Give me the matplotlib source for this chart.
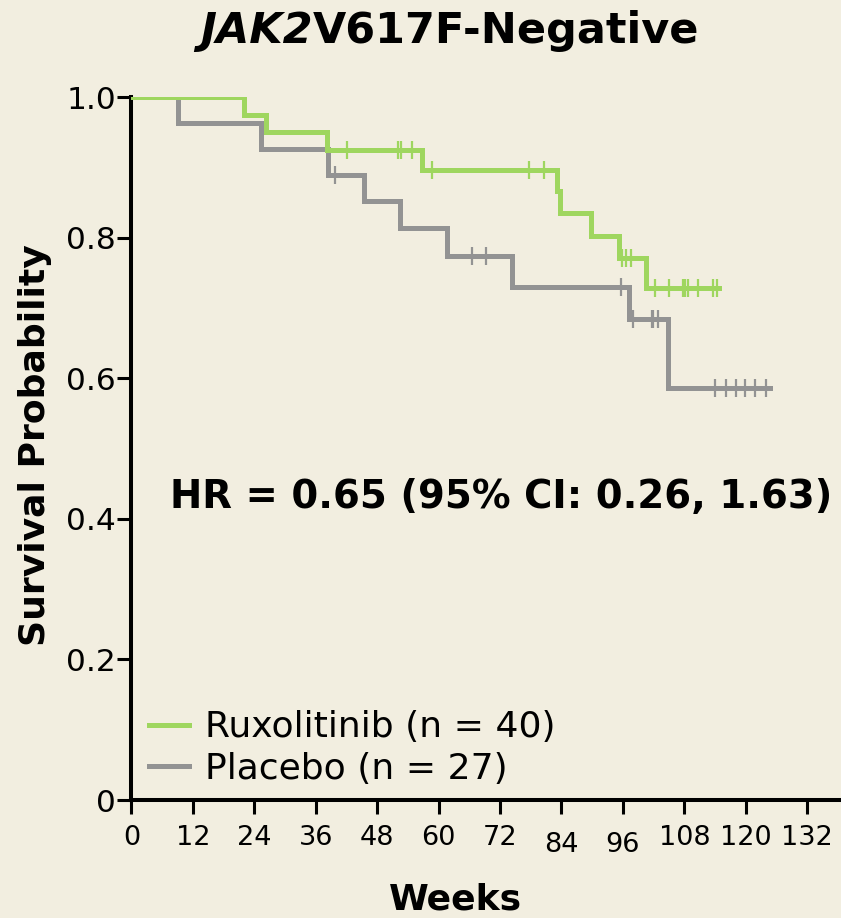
import numpy as np
import matplotlib
matplotlib.use("Agg")
import matplotlib.pyplot as plt
from matplotlib.transforms import ScaledTranslation

# Kaplan-Meier steps: event times (weeks) and survival after each event
rux_times = [22.0, 26.2, 38.3, 56.7, 83.2, 83.8, 89.7, 95.2, 100.5]
rux_surv = [0.975, 0.950, 0.925, 0.896, 0.866, 0.835, 0.802, 0.771, 0.728]
rux_censor = [42.1, 52.0, 52.6, 54.9, 58.8, 77.7, 80.6, 95.8, 96.7, 97.5,
              102.3, 105.1, 107.7, 108.1, 108.8, 110.7, 113.6, 114.3]
rux_end = 114.8

pbo_times = [9.2, 25.3, 38.5, 45.4, 52.5, 61.6, 74.3, 97.1, 104.9]
pbo_surv = [0.963, 0.926, 0.889, 0.852, 0.813, 0.774, 0.730, 0.684, 0.586]
pbo_censor = [39.8, 66.5, 69.2, 95.6, 97.9, 101.6, 101.9, 102.9,
              114.0, 116.1, 118.1, 119.8, 121.8, 123.9]
pbo_end = 124.7

week_ticks = np.arange(0, 133, 12)
surv_ticks = [0, 0.2, 0.4, 0.6, 0.8, 1.0]
surv_labels = ["0", "0.2", "0.4", "0.6", "0.8", "1.0"]

bg = "#f2eee0"
green = "#9fd65f"
grey = "#939393"

fig = plt.figure(figsize=(8.41, 9.18), dpi=100, facecolor=bg)
ax = fig.add_axes([0.1562, 0.1285, 0.8438, 0.7658], facecolor=bg)


def km_curve(times, surv, censor, end, color, label):
    t = np.r_[0, times, end]
    s = np.r_[1.0, surv, surv[-1]]
    ax.step(t, s, where="post", color=color, lw=3.6, label=label,
            solid_joinstyle="miter", zorder=3)
    idx = np.searchsorted(t, censor, side="right") - 1
    ax.plot(censor, s[idx], ls="none", marker="|", ms=13, mew=1.6,
            color=color, zorder=4)


# placebo underneath, ruxolitinib on top
km_curve(pbo_times, pbo_surv, pbo_censor, pbo_end, grey, "Placebo (n = 27)")
km_curve(rux_times, rux_surv, rux_censor, rux_end, green, "Ruxolitinib (n = 40)")

ax.set_xlim(0, 138.6)
ax.set_ylim(0, 1.0)
ax.set_xticks(week_ticks)
ax.set_yticks(surv_ticks)
ax.set_yticklabels(surv_labels)

for side in ("top", "right"):
    ax.spines[side].set_visible(False)
for side in ("left", "bottom"):
    ax.spines[side].set_linewidth(2.9)
    ax.spines[side].set_capstyle("projecting")
ax.spines["left"].set_bounds(0, 1.0)

ax.tick_params(axis="both", width=2.2, length=10, color="black")
ax.tick_params(axis="x", labelsize=19.5, pad=8)
ax.tick_params(axis="y", labelsize=22.5, pad=1)

# the 84 and 96 week labels sit slightly lower
for lbl in ax.get_xticklabels():
    if lbl.get_text() in ("84", "96"):
        lbl.set_transform(lbl.get_transform() +
                          ScaledTranslation(0, -5 / 72, fig.dpi_scale_trans))

fig.text(455 / 841, 1 - 900 / 918, "Weeks", fontsize=26, fontweight="bold",
         ha="center", va="center")
fig.text(35 / 841, 1 - 445 / 918, "Survival Probability", fontsize=26,
         fontweight="bold", ha="center", va="center", rotation=90)

handles, labels = ax.get_legend_handles_labels()
ax.legend(handles[::-1], labels[::-1], loc="lower left",
          bbox_to_anchor=(0.005, 0.0), frameon=False, fontsize=26,
          handlelength=1.1, handletextpad=0.45, labelspacing=0.2,
          borderaxespad=0)

fig.text(170 / 841, 1 - 497 / 918, "HR = 0.65 (95% CI: 0.26, 1.63)",
         fontsize=27.8, fontweight="bold", ha="left", va="center")

# title: italic gene name followed by the upright mutation label
t1 = fig.text(200 / 841, 1 - 31 / 918, "JAK2", fontsize=31,
              fontweight="bold", style="italic", ha="left", va="center")
ax.annotate("V617F-Negative", xy=(1.0, 0.5), xycoords=t1, fontsize=31,
            fontweight="bold", ha="left", va="center",
            annotation_clip=False)

fig.savefig("out.png", dpi=100, facecolor=bg)
